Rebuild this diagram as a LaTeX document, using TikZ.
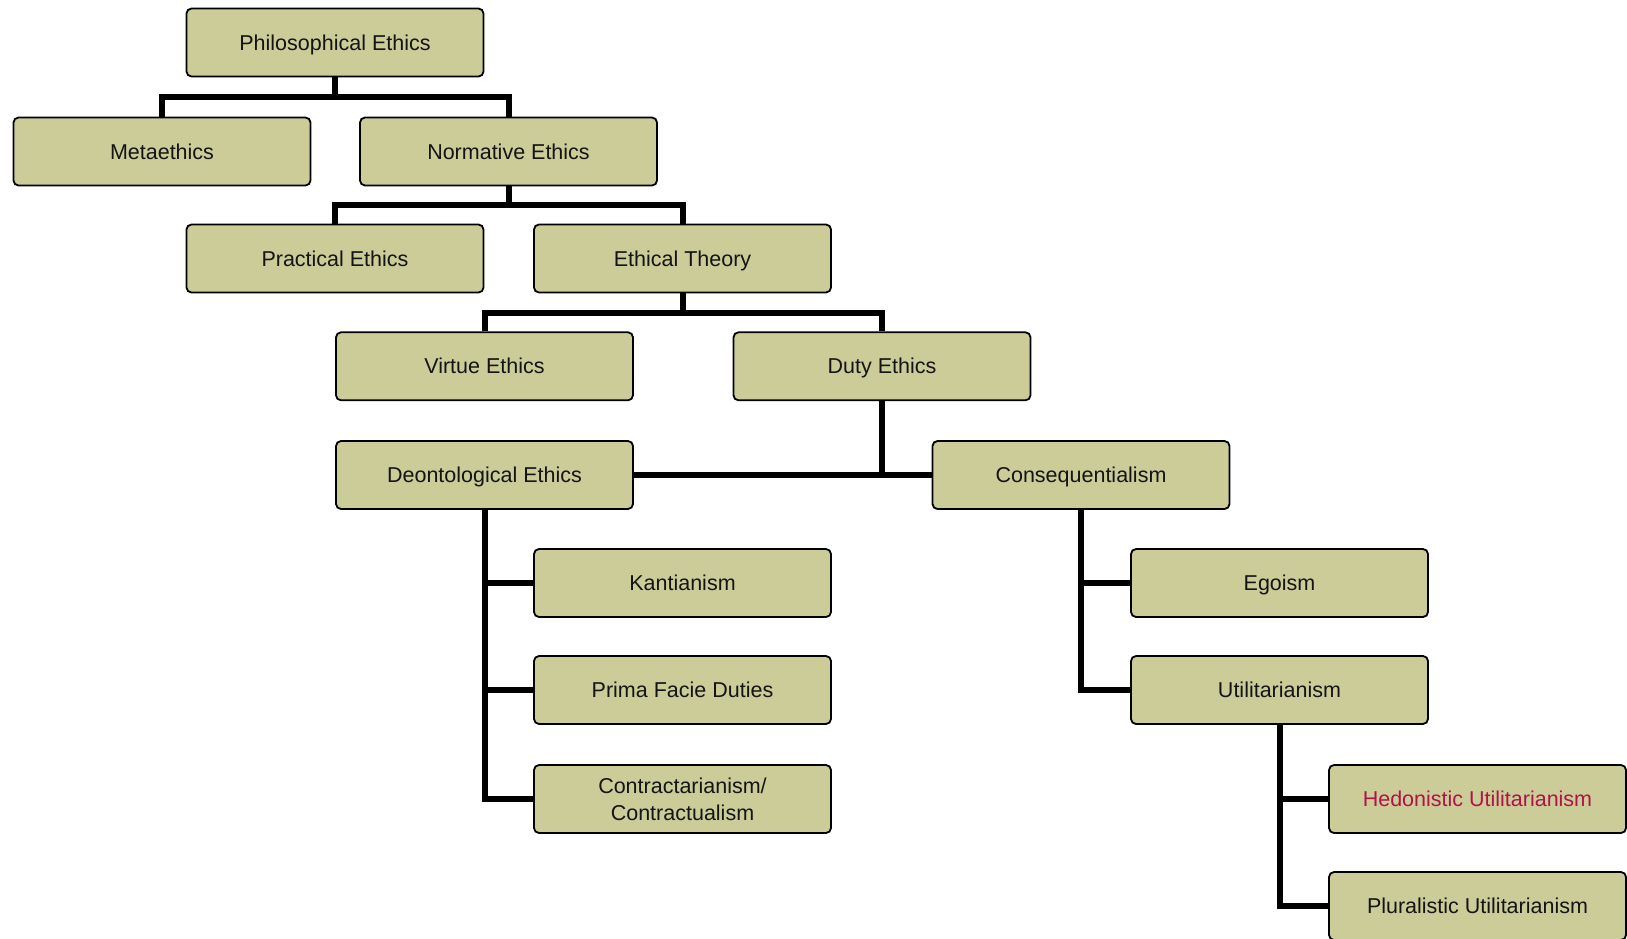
\documentclass[tikz,border=0pt]{standalone}
\usepackage{fontspec}
\setmainfont{Liberation Sans}
\definecolor{boxfill}{RGB}{204,204,153}
\definecolor{hedred}{RGB}{175,20,70}
\definecolor{txt}{RGB}{20,20,20}
\begin{document}
\begin{tikzpicture}[x=1pt,y=-1pt,
  basebox/.style={draw=black, fill=boxfill, line width=1.8pt, rounded corners=5pt,
    minimum width=297pt, minimum height=68pt, inner sep=0pt, align=center,
    font=\fontsize{21.5}{27}\selectfont, text=txt},
  ebox/.style={basebox, text height=19pt, text depth=4pt},
  conn/.style={draw=black, line width=6pt, line join=miter}]
\useasboundingbox (0,0) rectangle (1627,938);
\node[ebox] (pe) at (335,42.5) {Philosophical Ethics};
\node[ebox] (meta) at (162,151.5) {Metaethics};
\node[ebox] (norm) at (508.5,151.5) {Normative Ethics};
\node[ebox] (prac) at (335,258.5) {Practical Ethics};
\node[ebox] (et) at (682.5,258.5) {Ethical Theory};
\node[ebox] (virt) at (484.5,366.3) {Virtue Ethics};
\node[ebox] (duty) at (882,366.3) {Duty Ethics};
\node[ebox] (deont) at (484.5,475) {Deontological Ethics};
\node[ebox] (conseq) at (1081,475) {Consequentialism};
\node[ebox] (kant) at (682.5,583) {Kantianism};
\node[ebox] (prima) at (682.5,690) {Prima Facie Duties};
\node[basebox] (contr) at (682.5,799) {Contractarianism/\\Contractualism};
\node[ebox] (ego) at (1279.5,583) {Egoism};
\node[ebox] (util) at (1279.5,690) {Utilitarianism};
\node[ebox, text=hedred] (hedo) at (1477.5,799) {Hedonistic Utilitarianism};
\node[ebox] (plur) at (1477.5,906) {Pluralistic Utilitarianism};
\coordinate (b1) at (0,97);
\coordinate (b2) at (0,205);
\coordinate (b3) at (0,313);
\draw[conn] (pe.south) -- (pe.south |- b1);
\draw[conn] (meta.north) |- (norm.north |- b1) -- (norm.north);
\draw[conn] (norm.south) -- (norm.south |- b2);
\draw[conn] (prac.north) |- (et.north |- b2) -- (et.north);
\draw[conn] (et.south) -- (et.south |- b3);
\draw[conn] (virt.north) |- (duty.north |- b3) -- (duty.north);
\draw[conn] (duty.south) -- (duty.south |- deont.east);
\draw[conn] (deont.east) -- (conseq.west);
\draw[conn] (deont.south) |- (contr.west);
\draw[conn] (deont.south |- kant.west) -- (kant.west);
\draw[conn] (deont.south |- prima.west) -- (prima.west);
\draw[conn] (conseq.south) |- (util.west);
\draw[conn] (conseq.south |- ego.west) -- (ego.west);
\draw[conn] (util.south) |- (plur.west);
\draw[conn] (util.south |- hedo.west) -- (hedo.west);
\end{tikzpicture}
\end{document}
